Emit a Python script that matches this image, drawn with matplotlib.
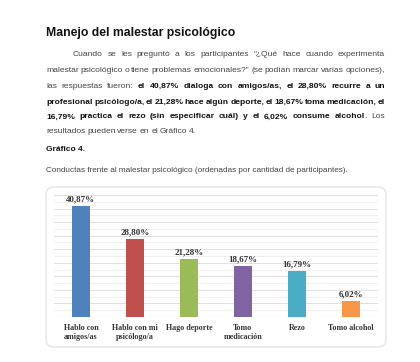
import matplotlib
matplotlib.use("Agg")
import matplotlib.pyplot as plt
from matplotlib.patches import FancyBboxPatch
import numpy as np

W, H = 420, 362

categories = ["Hablo con\namigos/as", "Hablo con mi\npsicólogo/a", "Hago deporte",
              "Tomo\nmedicación", "Rezo", "Tomo alcohol"]
values = [40.87, 28.80, 21.28, 18.67, 16.79, 6.02]
labels = ["40,87%", "28,80%", "21,28%", "18,67%", "16,79%", "6,02%"]
colors = ["#4F81BD", "#C0504D", "#9BBB59", "#8064A2", "#4BACC6", "#F79646"]

title = "Manejo del malestar psicológico"
# paragraph lines: segments (text, bold), justify flag, left x
paragraph = [
    ([("Cuando se les preguntó a los participantes \"¿Qué hace cuando experimenta", False)], True, 73),
    ([("malestar psicológico o tiene problemas emocionales?\" (se podían marcar varias opciones),", False)], True, 46),
    ([("las respuestas fueron:", False), ("el 40,87% dialoga con amigos/as, el 28,80% recurre a un", True)], True, 46),
    ([("profesional psicólogo/a, el 21,28% hace algún deporte, el 18,67% toma medicación, el", True)], True, 46),
    ([("16,79% practica el rezo (sin especificar cuál) y el 6,02% consume alcohol", True), (".", False), ("Los", False)], True, 46),
    ([("resultados pueden verse en el Gráfico 4.", False)], False, 46),
]
line_y = [54, 70, 86, 102, 117, 132]
grafico = "Gráfico 4."
caption = "Conductas frente al malestar psicológico (ordenadas por cantidad de participantes)."

fig = plt.figure(figsize=(W / 100, H / 100), dpi=100)
fig.patch.set_facecolor("white")


def fx(x):
    return x / W


def fy(y):
    return 1 - y / H


sans = "Liberation Sans"
fs = 6.1
fig.text(fx(46), fy(33), title, fontsize=8.8, fontweight="bold", family=sans,
         va="center", ha="left", color="#111111")

renderer = fig.canvas.get_renderer()
right = 385
for (segs, justify, x0), y in zip(paragraph, line_y):
    words = []
    for txt, bold in segs:
        if txt == ".":
            words[-1] = (words[-1][0], words[-1][1], [(".", False)])
            continue
        for wd in txt.split(" "):
            if wd:
                words.append((wd, bold, []))
    objs = []
    widths = []
    for wd, bold, extra in words:
        t = fig.text(fx(x0), fy(y), wd, fontsize=fs, family=sans,
                     fontweight="bold" if bold else "normal",
                     color="#111111" if bold else "#444444", va="center", ha="left")
        w = t.get_window_extent(renderer).width
        parts = [(t, 0)]
        for et, eb in extra:
            t2 = fig.text(fx(x0), fy(y), et, fontsize=fs, family=sans,
                          color="#444444", va="center", ha="left")
            parts.append((t2, w))
            w += t2.get_window_extent(renderer).width
        objs.append(parts)
        widths.append(w)
    if justify and len(words) > 1:
        gap = (right - x0 - sum(widths)) / (len(words) - 1)
    else:
        gap = 1.8
    x = x0
    for parts, w in zip(objs, widths):
        for t, off in parts:
            t.set_x(fx(x + off))
        x += w + gap

fig.text(fx(46), fy(150), grafico, fontsize=6.0, fontweight="bold", family=sans,
         va="center", ha="left", color="#111111")
fig.text(fx(46), fy(170), caption, fontsize=5.9, family=sans,
         va="center", ha="left", color="#444444")

# chart box
box = FancyBboxPatch((fx(46), fy(347)), fx(386) - fx(46), fy(187) - fy(347),
                     boxstyle="round,pad=0,rounding_size=0.02",
                     transform=fig.transFigure, facecolor="white",
                     edgecolor="#DDDDDD", linewidth=0.8, zorder=-1)
fig.patches.append(box)

ax = fig.add_axes([fx(54), fy(317), fx(378) - fx(54), fy(195) - fy(317)])
ax.set_zorder(2)
x = np.arange(len(values))
ax.bar(x, values, width=0.33, color=colors, zorder=3)
ax.set_xlim(-0.5, len(values) - 0.5)
ax.set_ylim(0, 45)
for yv in np.arange(2.5, 45.1, 2.5):
    c = "#DADADA" if yv % 5 == 0 else "#ECECEC"
    ax.axhline(yv, color=c, linewidth=0.6, zorder=1)
ax.axhline(0, color="#D0D0D0", linewidth=0.8, zorder=2)
for xi, v, lab in zip(x, values, labels):
    ax.text(xi, v + 1.0, lab, ha="center", va="bottom", fontsize=6.5,
            fontweight="bold", family="Liberation Serif", color="#333333")
ax.set_xticks(x)
ax.set_xticklabels(categories, fontsize=5.8, fontweight="bold",
                   family="Liberation Serif", color="#333333", linespacing=1.15, va="top")
ax.tick_params(axis="x", length=0, pad=5)
ax.set_yticks([])
for s in ax.spines.values():
    s.set_visible(False)
ax.patch.set_alpha(0)

fig.savefig("out.png", dpi=100, facecolor="white")
